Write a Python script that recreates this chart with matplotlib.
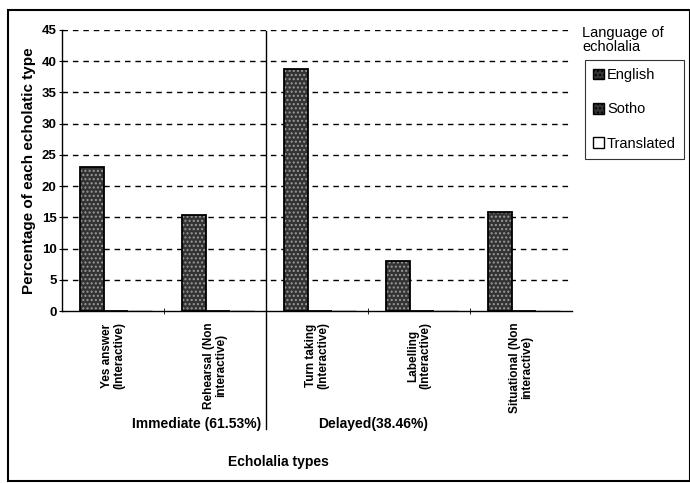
import matplotlib.pyplot as plt
from matplotlib.patches import Patch, Rectangle
from matplotlib.transforms import blended_transform_factory
import numpy as np

plt.rcParams['font.family'] = ['Liberation Sans', 'DejaVu Sans']

categories = ['Yes answer\n(Interactive)', 'Rehearsal (Non\ninteractive)',
              'Turn taking\n(Interactive)', 'Labelling\n(Interactive)',
              'Situational (Non\ninteractive)']
english = [23.0, 15.4, 38.7, 8.0, 15.8]
sotho = [0, 0, 0, 0, 0]
translated = [0, 0, 0, 0, 0]
series = [('English', english), ('Sotho', sotho), ('Translated', translated)]
yticks = list(range(0, 50, 5))

fig = plt.figure(figsize=(6.9, 4.83), dpi=100)
ax = fig.add_axes([0.0899, 0.356, 0.739, 0.582])

x = np.arange(len(categories))
w = 0.235
offsets = [-0.205, -0.205 + w, -0.205 + 2 * w]
for (name, vals), off in zip(series, offsets):
    if name == 'Translated':
        ax.bar(x + off, vals, w, facecolor='white', edgecolor='black', lw=1, zorder=3)
    else:
        # stippled fill, then a crisp outline on top
        ax.bar(x + off, vals, w, facecolor='#333333', edgecolor='#9a9a9a',
               hatch='....', lw=0, zorder=3)
        ax.bar(x + off, vals, w, fill=False, edgecolor='black', lw=1.3, zorder=4)

ax.set_xlim(-0.5, 4.5)
ax.set_ylim(0, 45)
ax.set_yticks(yticks)
ax.set_yticklabels([str(t) for t in yticks], fontsize=9.5, fontweight='bold')
ax.set_xticks(x)
ax.set_xticklabels(categories, rotation=90, fontsize=8.5, fontweight='bold',
                   va='top', ha='center', linespacing=1.0)
ax.tick_params(axis='x', length=0, pad=8)
ax.set_xticks(np.arange(0.5, 4.5, 1), minor=True)
ax.tick_params(axis='x', which='minor', length=4, direction='inout')
ax.tick_params(axis='y', length=4, direction='inout', pad=2)

for s in ['top', 'right']:
    ax.spines[s].set_visible(False)
ax.spines['left'].set_linewidth(1)
ax.spines['bottom'].set_linewidth(1)

for t in yticks[1:]:
    ax.axhline(t, color='black', lw=1, ls=(0, (4, 3.5)), zorder=1)

ax.set_ylabel('Percentage of each echolatic type', fontsize=11, fontweight='bold',
              labelpad=4)

# separator between immediate and delayed types
tr = blended_transform_factory(ax.transData, ax.transAxes)
ax.plot([1.5, 1.5], [-0.42, 0.995], transform=tr, color='black', lw=1,
        clip_on=False, zorder=5)

fig.text(197 / 690, 1 - 424 / 483, 'Immediate (61.53%)', ha='center', va='center',
         fontsize=10, fontweight='bold')
fig.text(373 / 690, 1 - 424 / 483, 'Delayed(38.46%)', ha='center', va='center',
         fontsize=10, fontweight='bold')
fig.text(278 / 690, 1 - 462 / 483, 'Echolalia types', ha='center', va='center',
         fontsize=10, fontweight='bold')

# legend
fig.text(582 / 690, 1 - 40 / 483, 'Language of\necholalia', ha='left', va='center',
         fontsize=10.5, linespacing=1.05)
handles = [
    Patch(facecolor='#333333', edgecolor='black', hatch='....', label='English'),
    Patch(facecolor='#333333', edgecolor='black', hatch='....', label='Sotho'),
    Patch(facecolor='white', edgecolor='black', label='Translated'),
]
leg = fig.legend(handles=handles, loc='upper left',
                 bbox_to_anchor=(585 / 690, 1 - 60 / 483), fontsize=10.5,
                 frameon=True, fancybox=False, edgecolor='black',
                 handlelength=0.75, handleheight=0.75, handletextpad=0.2,
                 labelspacing=1.4, borderpad=0.55, borderaxespad=0)
leg.get_frame().set_linewidth(0.8)

# outer frame
fig.patches.append(Rectangle((8 / 690, 2 / 483), 1 - 8 / 690, 1 - 12 / 483,
                             transform=fig.transFigure, fill=False,
                             edgecolor='black', lw=1.5))

fig.savefig('out.png', dpi=100)
